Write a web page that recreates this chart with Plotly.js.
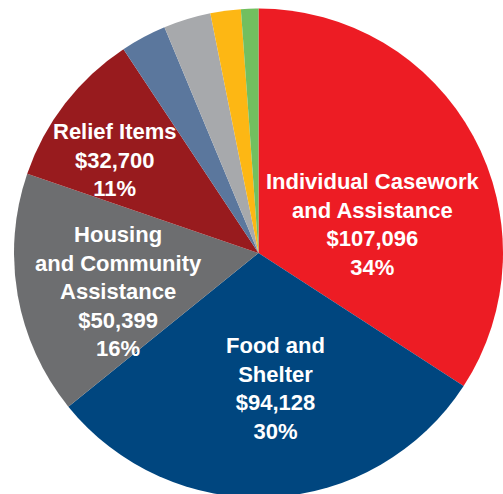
<!DOCTYPE html>
<html><head><meta charset="utf-8">
<script src="https://cdn.plot.ly/plotly-3.0.1.min.js"></script>
<style>html,body{margin:0;padding:0;overflow:hidden;background:#fff}#chart{width:503px;height:520px}</style>
</head><body><div id="chart"></div>
<script>
const categories = ["Individual Casework and Assistance","Food and Shelter","Housing and Community Assistance","Relief Items","Other A","Other B","Other C","Other D"];
const amounts = [107096, 94128, 50399, 32700, 9500, 9800, 6300, 3600];
const colors = ["#ED1C24","#00467F","#6D6E70","#981B1E","#5B779D","#A7A9AC","#FDB714","#72BF5F"];
const labelTexts = [
  "Individual Casework<br>and Assistance<br>$107,096<br>34%",
  "Food and<br>Shelter<br>$94,128<br>30%",
  "Housing<br>and Community<br>Assistance<br>$50,399<br>16%",
  "Relief Items<br>$32,700<br>11%"
];
const labelX = [372, 275, 118, 115];
const labelY = [224, 388, 291, 160];

const W = 503, H = 520;
const trace = {
  type: "pie",
  labels: categories,
  values: amounts,
  marker: {colors: colors, line: {width: 0}},
  sort: false,
  direction: "clockwise",
  rotation: 0,
  textinfo: "none",
  hoverinfo: "none",
  domain: {x: [14/W, 1], y: [(H-498)/H, (H-8)/H]}
};
const annotations = labelTexts.map((t, i) => ({
  text: t, showarrow: false, xref: "paper", yref: "paper",
  x: labelX[i]/W, y: 1 - labelY[i]/H, xanchor: "center", yanchor: "middle",
  align: "center",
  font: {family: "Liberation Sans, Arial, sans-serif", size: 22, color: "#ffffff", weight: "bold"}
}));
const layout = {
  width: W, height: H, margin: {l:0, r:0, t:0, b:0},
  showlegend: false, paper_bgcolor: "#fff",
  annotations: annotations
};
Plotly.newPlot("chart", [trace], layout, {displayModeBar: false, staticPlot: true});
</script></body></html>
